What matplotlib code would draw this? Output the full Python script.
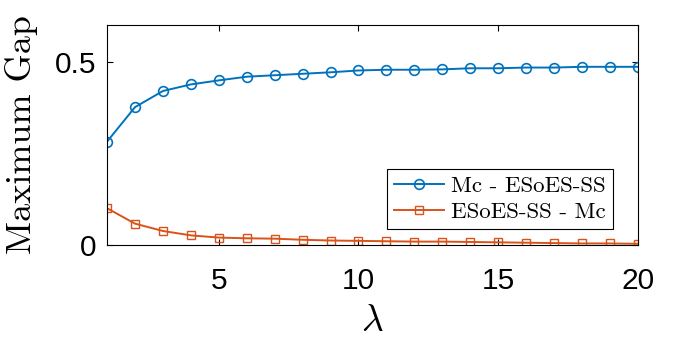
import matplotlib
matplotlib.use("Agg")
import matplotlib.pyplot as plt

lam = list(range(1, 21))
mc_minus_esoes = [0.282, 0.376, 0.420, 0.438, 0.449, 0.459, 0.463, 0.467, 0.471, 0.476,
                  0.478, 0.478, 0.479, 0.482, 0.482, 0.484, 0.484, 0.486, 0.486, 0.486]
esoes_minus_mc = [0.100, 0.058, 0.038, 0.026, 0.020, 0.018, 0.017, 0.014, 0.012, 0.011,
                  0.010, 0.009, 0.009, 0.008, 0.007, 0.006, 0.005, 0.004, 0.004, 0.003]
labels = ["Mc - ESoES-SS", "ESoES-SS - Mc"]
xticks = [5, 10, 15, 20]
yticks = [0, 0.5]

plt.rcParams['mathtext.fontset'] = 'cm'
plt.rcParams['axes.formatter.use_mathtext'] = True

fig = plt.figure(figsize=(7, 3.43), dpi=100)
ax = fig.add_axes([0.153, 0.286, 0.758, 0.641])

ax.plot(lam, mc_minus_esoes, color='#0072BD', lw=1.4, marker='o', ms=7,
        mfc='none', mew=1.2, label=labels[0])
ax.plot(lam, esoes_minus_mc, color='#D95319', lw=1.4, marker='s', ms=6,
        mfc='none', mew=1.0, label=labels[1])

ax.set_xlim(1, 20)
ax.set_ylim(0, 0.6)
ax.set_xticks(xticks)
ax.set_yticks(yticks)
ax.set_yticklabels(['0', '0.5'])
ax.set_xticklabels([str(t) for t in xticks])
for lbl in ax.get_xticklabels() + ax.get_yticklabels():
    lbl.set_fontfamily('Liberation Sans')
    lbl.set_fontsize(21.5)
ax.tick_params(direction='in', length=4, width=0.8, top=True, right=True)
ax.tick_params(axis='x', pad=16)
ax.tick_params(axis='y', pad=8)
for s in ax.spines.values():
    s.set_linewidth(0.8)

ax.set_ylabel('Maximum Gap', fontfamily='cmr10', fontsize=26, labelpad=12)
ax.set_xlabel(r'$\lambda$', fontsize=27, labelpad=6)

leg = ax.legend(loc='lower right', bbox_to_anchor=(0.953, 0.073),
                prop={'family': 'cmr10', 'size': 16.5}, fancybox=False,
                edgecolor='black', framealpha=1, handlelength=2.2,
                borderpad=0.3, labelspacing=0.25, handletextpad=0.3,
                borderaxespad=0)
leg.get_frame().set_linewidth(0.8)

fig.savefig('out.png', dpi=100)
